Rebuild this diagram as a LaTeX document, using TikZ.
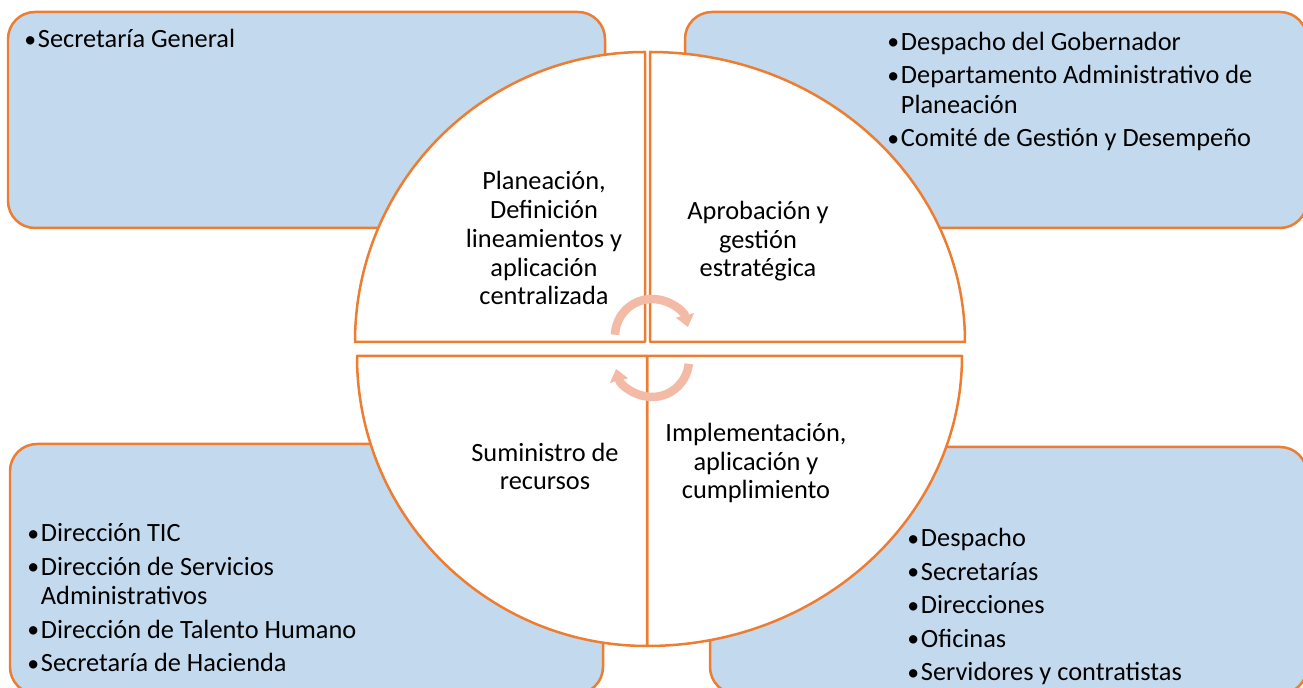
\documentclass[tikz,border=0pt]{standalone}
\usepackage{fontspec}
\setmainfont{Carlito}
\definecolor{boxblue}{RGB}{195, 217, 237}
\definecolor{lineorange}{RGB}{237, 125, 49}
\definecolor{arrowpeach}{RGB}{243, 186, 165}
\usepackage{tikz}
\usetikzlibrary{arrows.meta}
\newcommand{\itemdot}{{\fontsize{13.5}{13.5}\selectfont\raisebox{0.4pt}{•}}\hspace{1pt}}
\newcommand{\itemgap}{\phantom{\itemdot}}
\tikzset{
  groupbox/.style={draw=lineorange, fill=boxblue, line width=0.05cm, rounded corners=0.54cm},
  quarter/.style={draw=lineorange, fill=white, line width=0.05cm, line join=round},
  itemlist/.style={anchor=base west, align=left, inner sep=0pt, font=\fontsize{15}{16.8}\selectfont},
  phasetext/.style={anchor=base, align=center, inner sep=0pt, font=\fontsize{15}{16.4}\selectfont},
  cyclearrow/.style={draw=arrowpeach, line width=0.17cm, -{Triangle[width=0.36cm, length=0.24cm]}},
}

\begin{document}
\begin{tikzpicture}[x=0.02cm, y=-0.02cm]
\useasboundingbox (0,0) rectangle (1303,688);
\clip (0,0) rectangle (1303,688);

% corner boxes
\draw[groupbox] (8,12) rectangle (605,228);
\draw[groupbox] (685,12) rectangle (1307,228);
\draw[groupbox] (10,444) rectangle (603,694);
\draw[groupbox] (710,447) rectangle (1307,694);

% the four quarters
\draw[quarter] (645,342) -- (355,342) arc[start angle=180, end angle=270, radius=290] -- cycle;
\draw[quarter] (650,342) -- (650,52) arc[start angle=270, end angle=360, x radius=315, y radius=290] -- cycle;
\draw[quarter] (647,356) -- (962,356) arc[start angle=0, end angle=90, x radius=315, y radius=290] -- cycle;
\draw[quarter] (647,356) -- (647,646) arc[start angle=90, end angle=180, radius=290] -- cycle;

% phase labels (base = last line)
\node[phasetext] (plan) at (544,305) {Planeación,\\ Definición\\ lineamientos y\\ aplicación\\ centralizada};
\node[phasetext] (aprob) at (758,277) {Aprobación y\\ gestión\\ estratégica};
\node[phasetext] (sumin) at (545,490) {Suministro de\\ recursos};
\node[phasetext] (impl) at (756,499) {Implementación,\\ aplicación y\\ cumplimiento};

% who is responsible
\node[itemlist] (secgen) at (24,48) {\itemdot Secretaría General};
\node[itemlist] (gober) at (887,147) {\itemdot Despacho del Gobernador\\[0.08cm]
  \itemdot Departamento Administrativo de\\ \itemgap Planeación\\[0.08cm]
  \itemdot Comité de Gestión y Desempeño};
\node[itemlist] (apoyo) at (27,672) {\itemdot Dirección TIC\\[0.08cm]
  \itemdot Dirección de Servicios\\ \itemgap Administrativos\\[0.08cm]
  \itemdot Dirección de Talento Humano\\[0.08cm]
  \itemdot Secretaría de Hacienda};
\node[itemlist] (ejec) at (907,681) {\itemdot Despacho\\[0.08cm]
  \itemdot Secretarías\\[0.08cm]
  \itemdot Direcciones\\[0.08cm]
  \itemdot Oficinas\\[0.08cm]
  \itemdot Servidores y contratistas};

% cycle arrows
\coordinate (cyctop) at (652,336);
\coordinate (cycbot) at (652,360);
\draw[cyclearrow] ([shift={(182:37)}]cyctop) arc[start angle=182, end angle=346, radius=37];
\draw[cyclearrow] ([shift={(6:37)}]cycbot) arc[start angle=6, end angle=166, radius=37];
\end{tikzpicture}
\end{document}
